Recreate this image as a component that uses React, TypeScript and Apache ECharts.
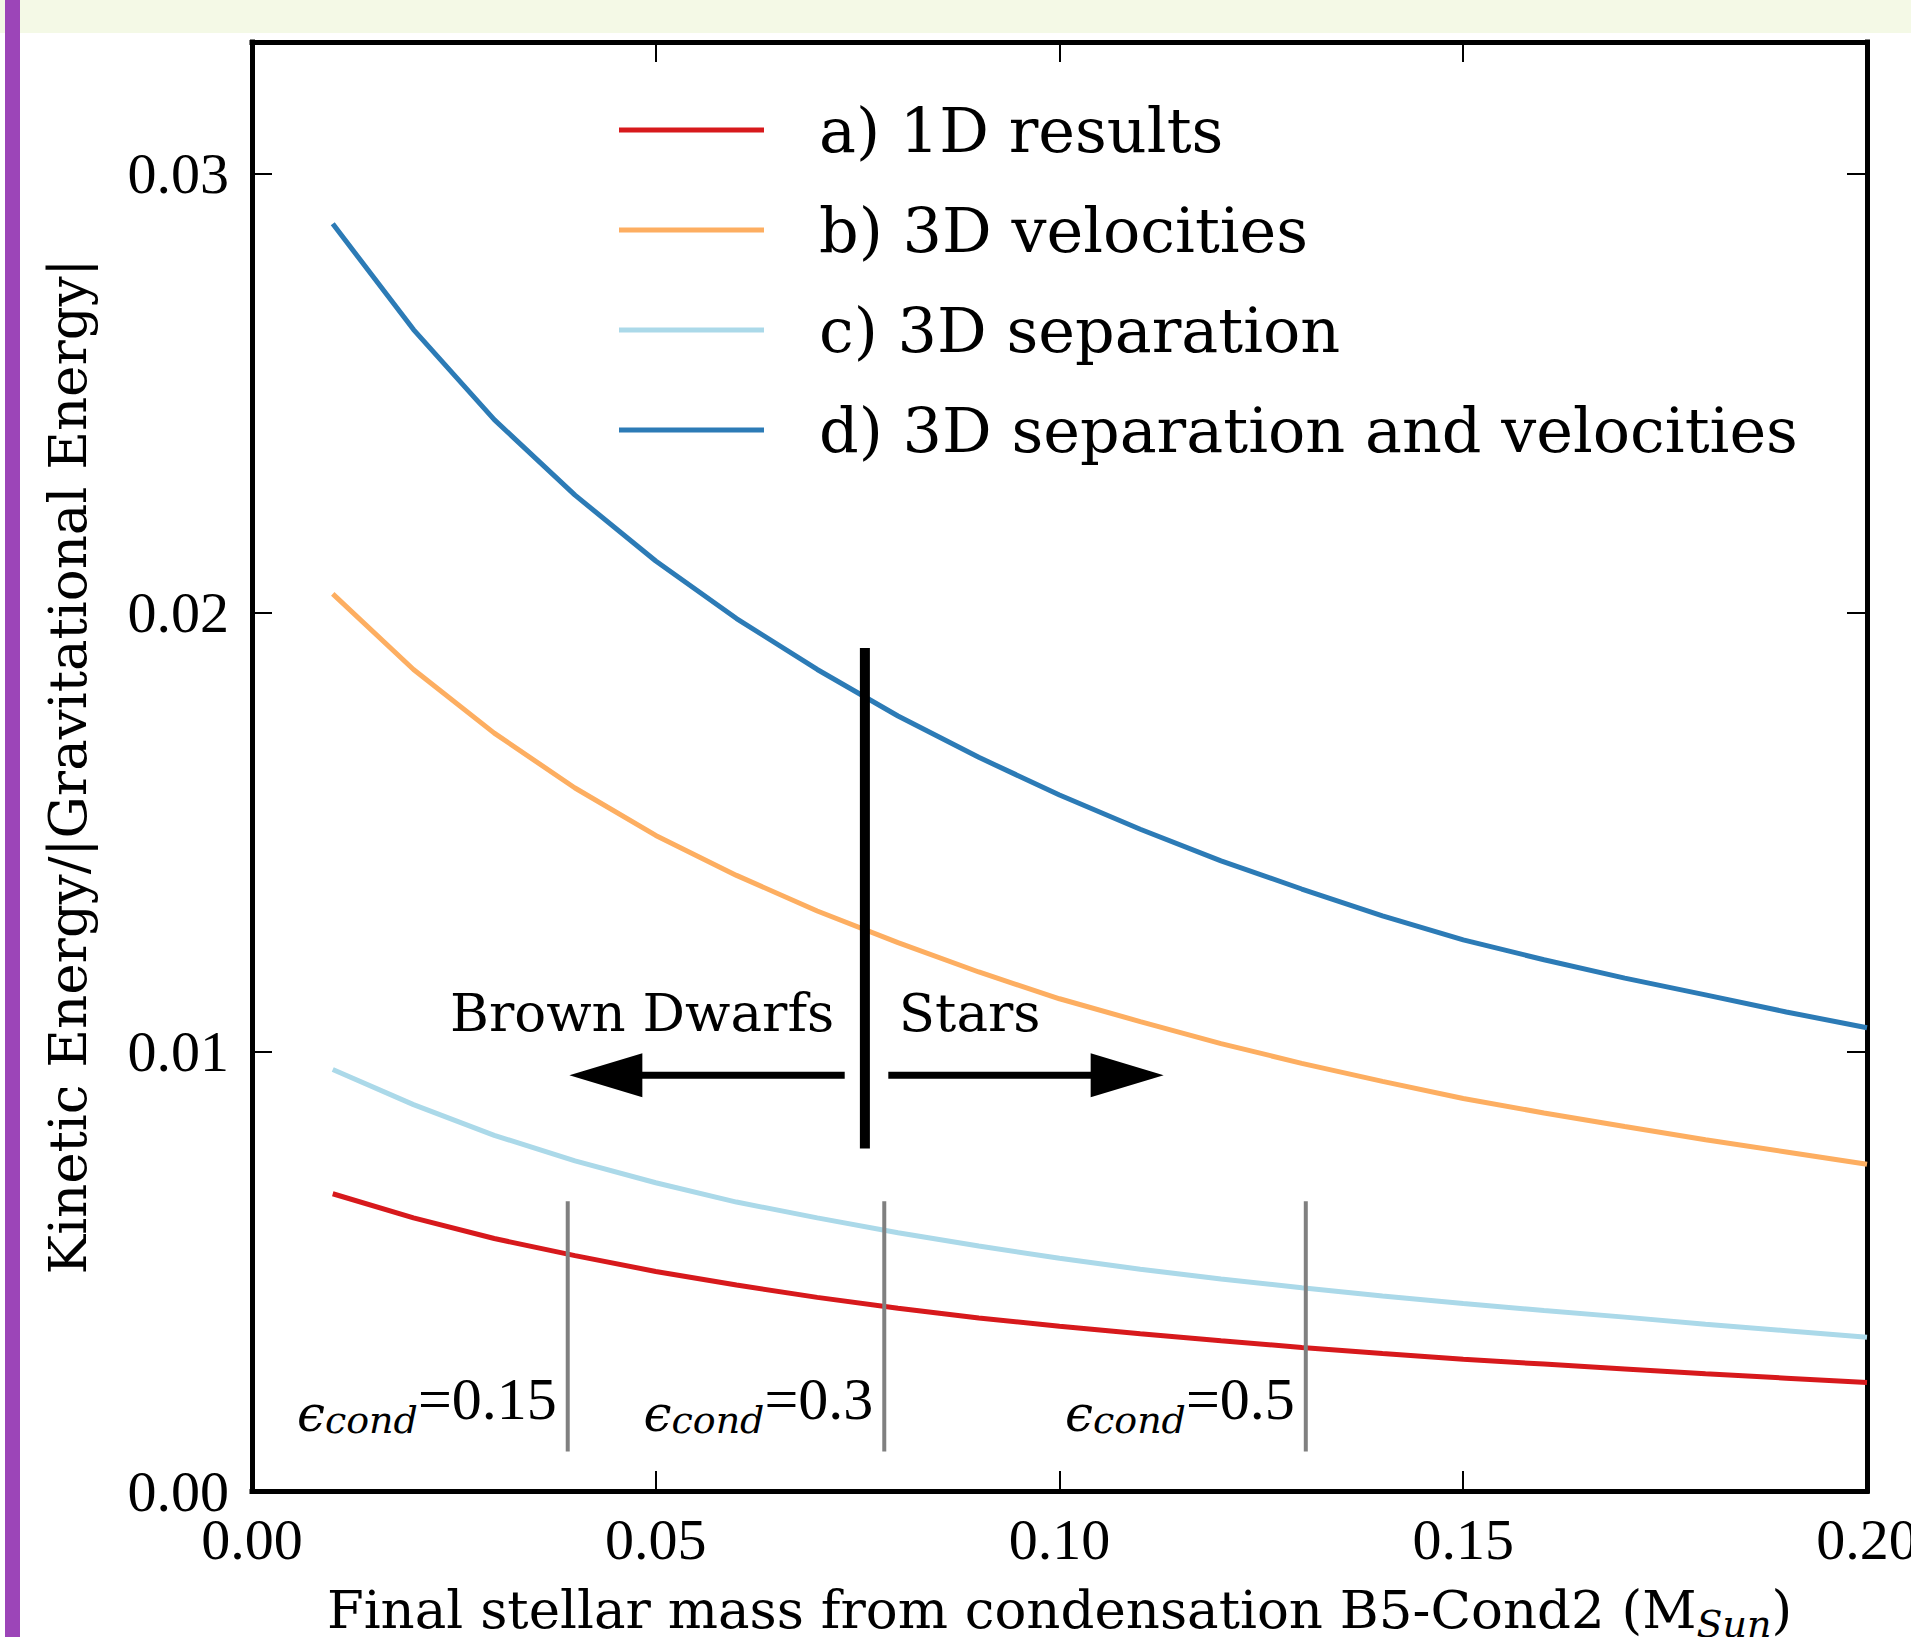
import React, { useEffect, useRef } from "react";
import * as echarts from "echarts";

// ---------- data ----------
const masses = [0.01, 0.02, 0.03, 0.04, 0.05, 0.06, 0.07, 0.08, 0.09, 0.1, 0.11, 0.12, 0.13, 0.14, 0.15, 0.16, 0.17, 0.18, 0.19, 0.2];
const oneDResults = [0.00677, 0.00622, 0.00575, 0.00536, 0.005, 0.00469, 0.00441, 0.00416, 0.00394, 0.00375, 0.00358, 0.00342, 0.00327, 0.00313, 0.003, 0.00289, 0.00278, 0.00267, 0.00257, 0.00247];
const velocities3D = [0.02043, 0.01871, 0.01726, 0.01601, 0.01493, 0.01402, 0.01321, 0.01249, 0.01182, 0.01121, 0.01069, 0.01019, 0.00974, 0.00933, 0.00894, 0.00861, 0.0083, 0.008, 0.00772, 0.00744];
const separation3D = [0.0096, 0.0088, 0.0081, 0.00752, 0.00702, 0.00658, 0.00622, 0.00588, 0.00558, 0.0053, 0.00505, 0.00483, 0.00463, 0.00444, 0.00427, 0.00411, 0.00396, 0.0038, 0.00365, 0.0035];
const separationVelocities3D = [0.02886, 0.02645, 0.0244, 0.02268, 0.02118, 0.01987, 0.01871, 0.01765, 0.01671, 0.01585, 0.01507, 0.01435, 0.01371, 0.0131, 0.01255, 0.0121, 0.01168, 0.0113, 0.01091, 0.01055];

const seriesNames = ["a) 1D results", "b) 3D velocities", "c) 3D separation", "d) 3D separation and velocities"];
const seriesValues = [oneDResults, velocities3D, separation3D, separationVelocities3D];
const seriesColors = ["#d7191c", "#fdae61", "#abd9e9", "#2c7bb6"];

const xMin = 0;
const xMax = 0.2;
const xInterval = 0.05;
const yMin = 0;
const yMax = 0.033;
const yInterval = 0.01;

const xAxisTitle = "Final stellar mass from condensation B5-Cond2 (M{sub|Sun})";
const yAxisTitle = "Kinetic Energy/|Gravitational Energy|";

// annotations
const dividerMass = 0.0759;
const dividerSpan = [0.0078, 0.0192];
const arrowY = 0.00947;
const arrowTails = [0.0734, 0.0788];
const arrowTips = [0.0393, 0.1129];
const regionLabels = ["Brown Dwarfs", "Stars"];
const regionLabelX = [0.0721, 0.0801];
const regionLabelY = 0.0109;
const epsilonValues = ["0.15", "0.3", "0.5"];
const epsilonMasses = [0.0391, 0.0783, 0.1305];
const epsilonSpan = [0.0009, 0.0066];
const epsilonLabelY = 0.0021;

const SERIF = "'Liberation Serif', serif";
const DSERIF = "'DejaVu Serif', serif";

function fmt(v: number) {
  const k = v * 100;
  return Math.abs(k - Math.round(k)) < 1e-6 ? v.toFixed(2) : "";
}

export default function App() {
  const ref = useRef<HTMLDivElement>(null);
  useEffect(() => {
    document.body.style.margin = "0";
    if (!ref.current) return;
    const chart = echarts.init(ref.current, null, { renderer: "svg" });

    const axisLine = { show: true, onZero: false, lineStyle: { color: "#000", width: 5, cap: "square" } };
    const axisTick = { show: true, inside: true, length: 20, lineStyle: { color: "#000", width: 2 } };

    const lineSeries = seriesNames.map((name, i) => ({
      name,
      type: "line",
      data: masses.map((m, j) => [m, seriesValues[i][j]]),
      showSymbol: false,
      symbol: "none",
      color: seriesColors[i],
      lineStyle: { color: seriesColors[i], width: 5 },
      itemStyle: { color: seriesColors[i] },
      z: 2,
    }));

    const epsilonSeries = {
      type: "custom",
      silent: true,
      z: 5,
      data: epsilonMasses.map((m, i) => [m, i]),
      renderItem: (params: any, api: any) => {
        const m = api.value(0);
        const i = api.value(1);
        const top = api.coord([m, epsilonSpan[1]]);
        const bot = api.coord([m, epsilonSpan[0]]);
        const lab = api.coord([m, epsilonLabelY]);
        return {
          type: "group",
          children: [
            {
              type: "line",
              shape: { x1: top[0], y1: top[1], x2: bot[0], y2: bot[1] },
              style: { stroke: "#808080", lineWidth: 4 },
            },
            {
              type: "text",
              x: lab[0] - 11,
              y: lab[1],
              style: {
                text: `{e|ϵ}{s|cond}{n|=${epsilonValues[i]}}`,
                align: "right",
                verticalAlign: "middle",
                textAlign: "right",
                textVerticalAlign: "middle",
                rich: {
                  e: { fontFamily: DSERIF, fontStyle: "italic", fontSize: 50, lineHeight: 72, verticalAlign: "bottom", fill: "#000", color: "#000" },
                  s: { fontFamily: DSERIF, fontStyle: "italic", fontSize: 38, lineHeight: 46, verticalAlign: "bottom", fill: "#000", color: "#000" },
                  n: { fontFamily: SERIF, fontSize: 60, lineHeight: 80, fill: "#000", color: "#000" },
                },
              },
            },
          ],
        };
      },
    };

    const regionSeries = {
      type: "custom",
      silent: true,
      z: 6,
      data: [[dividerMass, arrowY]],
      renderItem: (params: any, api: any) => {
        const dTop = api.coord([dividerMass, dividerSpan[1]]);
        const dBot = api.coord([dividerMass, dividerSpan[0]]);
        const children: any[] = [
          {
            type: "line",
            shape: { x1: dTop[0], y1: dTop[1], x2: dBot[0], y2: dBot[1] },
            style: { stroke: "#000", lineWidth: 10 },
          },
        ];
        const shaftHalf = 3.5;
        const headLen = 73;
        const headHalf = 22;
        arrowTails.forEach((t, k) => {
          const tail = api.coord([t, arrowY]);
          const tip = api.coord([arrowTips[k], arrowY]);
          const dir = tail[0] > tip[0] ? 1 : -1;
          const base = tip[0] + dir * headLen;
          const y = tip[1];
          children.push({
            type: "polygon",
            shape: {
              points: [
                [tail[0], y - shaftHalf],
                [base, y - shaftHalf],
                [base, y - headHalf],
                [tip[0], y],
                [base, y + headHalf],
                [base, y + shaftHalf],
                [tail[0], y + shaftHalf],
              ],
            },
            style: { fill: "#000" },
          });
        });
        regionLabels.forEach((txt, k) => {
          const p = api.coord([regionLabelX[k], regionLabelY]);
          children.push({
            type: "text",
            x: p[0],
            y: p[1],
            style: {
              text: txt,
              fontFamily: DSERIF,
              fontSize: 53,
              fill: "#000",
              align: k === 0 ? "right" : "left",
              textAlign: k === 0 ? "right" : "left",
              verticalAlign: "middle",
              textVerticalAlign: "middle",
            },
          });
        });
        return { type: "group", children };
      },
    };

    const option: any = {
      animation: false,
      backgroundColor: "#ffffff",
      grid: { left: 252, right: 44, top: 42, bottom: 146, containLabel: false, outerBoundsMode: "none" },
      legend: {
        data: seriesNames,
        orient: "vertical",
        left: 619,
        top: 99,
        padding: 0,
        itemWidth: 145,
        itemHeight: 5,
        itemGap: 38,
        icon: "rect",
        selectedMode: false,
        textStyle: { fontFamily: DSERIF, fontSize: 62, lineHeight: 62, color: "#000", padding: [0, 0, 0, 50] },
      },
      xAxis: [
        {
          type: "value",
          min: xMin,
          max: xMax,
          interval: xInterval,
          position: "bottom",
          axisLine,
          axisTick,
          splitLine: { show: false },
          axisLabel: { formatter: (v: number) => v.toFixed(2), fontFamily: SERIF, fontSize: 58, color: "#000", margin: 19 },
          name: xAxisTitle,
          nameLocation: "middle",
          nameGap: 84,
          nameTextStyle: {
            fontFamily: DSERIF,
            fontSize: 53,
            color: "#000",
            rich: {
              sub: { fontFamily: DSERIF, fontStyle: "italic", fontSize: 38, lineHeight: 68, verticalAlign: "bottom", color: "#000" },
            },
          },
        },
        {
          type: "value",
          min: xMin,
          max: xMax,
          interval: xInterval,
          position: "top",
          axisLine,
          axisTick,
          splitLine: { show: false },
          axisLabel: { show: false },
        },
      ],
      yAxis: [
        {
          type: "value",
          min: yMin,
          max: yMax,
          interval: yInterval,
          position: "left",
          axisLine,
          axisTick,
          splitLine: { show: false },
          axisLabel: { formatter: fmt, fontFamily: SERIF, fontSize: 58, color: "#000", margin: 23 },
          name: yAxisTitle,
          nameLocation: "middle",
          nameRotate: 90,
          nameGap: 158,
          nameTextStyle: { fontFamily: DSERIF, fontSize: 53, color: "#000" },
        },
        {
          type: "value",
          min: yMin,
          max: yMax,
          interval: yInterval,
          position: "right",
          axisLine,
          axisTick,
          splitLine: { show: false },
          axisLabel: { show: false },
        },
      ],
      graphic: [
        { type: "rect", left: 0, top: 0, shape: { width: 1911, height: 33 }, style: { fill: "#f4f9e6" }, z: -10 },
        { type: "rect", left: 5, top: 0, shape: { width: 15, height: 1637 }, style: { fill: "#9c45b8" }, z: -9 },
      ],
      series: [...lineSeries, epsilonSeries, regionSeries],
    };
    chart.setOption(option);
    return () => chart.dispose();
  }, []);
  return <div ref={ref} style={{ width: 1911, height: 1637 }} />;
}
